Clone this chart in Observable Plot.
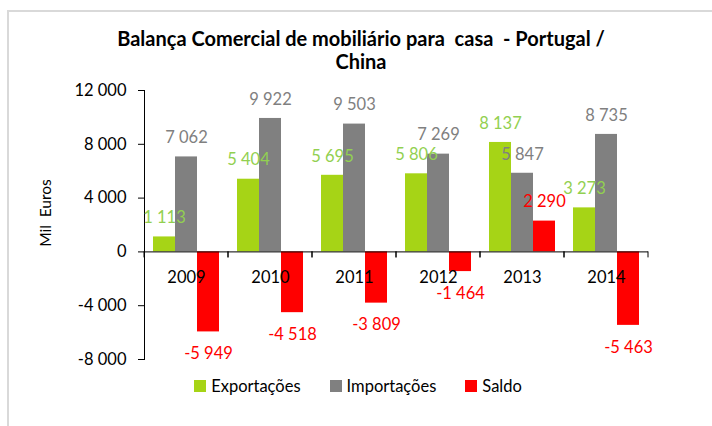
<!DOCTYPE html>
<html>
<head>
<meta charset="utf-8">
<script src="https://cdn.jsdelivr.net/npm/d3@7"></script>
<script src="https://cdn.jsdelivr.net/npm/@observablehq/plot@0.6"></script>
<style>
  html, body { margin: 0; padding: 0; background: #fff; }
  #wrap { position: relative; width: 712px; height: 426px; overflow: hidden; font-family: Lato, sans-serif; }
  #border { position: absolute; left: 7px; top: 10px; right: 0; bottom: 0; border-left: 2px solid #d9d9d9; border-top: 2px solid #d9d9d9; }
  #title { position: absolute; left: 0; width: 722px; top: 27px; text-align: center; font-weight: bold; font-size: 20px; line-height: 23px; white-space: pre; color: #000; }
  #ylabel { position: absolute; left: 45px; top: 213px; transform: translate(-50%, -50%) rotate(-90deg); font-size: 15.5px; white-space: pre; color: #000; }
  #legend { position: absolute; left: 0; width: 716px; top: 376px; display: flex; justify-content: center; gap: 29px; font-size: 16.5px; color: #000; }
  .item { display: flex; align-items: center; gap: 5px; }
  .sw { width: 12px; height: 12px; display: inline-block; }
  svg { position: absolute; left: 0; top: 0; }
</style>
</head>
<body>
<div id="wrap">
  <div id="border"></div>
  <div id="chart"></div>
  <div id="title"></div>
  <div id="ylabel"></div>
  <div id="legend"></div>
</div>
<script>
// ---- Data ----
const titleLines = ["Balança Comercial de mobiliário para  casa  - Portugal /", "China"];
const yLabel = "Mil  Euros";
const years = ["2009", "2010", "2011", "2012", "2013", "2014"];
const seriesNames = ["Exportações", "Importações", "Saldo"];
const exportacoes = [1113, 5404, 5695, 5806, 8137, 3273];
const importacoes = [7062, 9922, 9503, 7269, 5847, 8735];
const saldo = [-5949, -4518, -3809, -1464, 2290, -5463];
const yTicks = [-8000, -4000, 0, 4000, 8000, 12000];
const barColors = ["#a6d416", "#808080", "#ff0000"];
const labelColors = ["#92d050", "#808080", "#ff0000"];

// ---- Table ----
const seriesValues = [exportacoes, importacoes, saldo];
const rows = [];
years.forEach((year, i) => {
  seriesNames.forEach((s, j) => rows.push({year, series: s, value: seriesValues[j][i]}));
});

const locale = d3.formatLocale({decimal: ",", thousands: " ", grouping: [3], currency: ["", ""], minus: "-"});
const fmt = locale.format(",d");

const pos = s => rows.filter(d => d.series === s && d.value >= 0);
const neg = s => rows.filter(d => d.series === s && d.value < 0);

// boundary ticks on the zero line at each group edge
const groupTicks = (index, scales, values, dims) => {
  const y0 = scales.y(0);
  const g = d3.create("svg:g");
  g.append("path")
    .attr("d", `M${dims.marginLeft},${y0}v6M${dims.width - dims.marginRight},${y0}v6`)
    .attr("stroke", "#000").attr("fill", "none");
  return g.node();
};

const chart = Plot.plot({
  width: 712,
  height: 426,
  marginLeft: 143,
  marginRight: 64,
  marginTop: 90,
  marginBottom: 67,
  style: {fontFamily: "Lato, sans-serif", fontSize: "16.5px", background: "transparent", color: "#000"},
  fx: {domain: years, padding: 0, axis: null, label: null},
  x: {domain: seriesNames, paddingInner: 0, paddingOuter: 0.375, axis: null},
  y: {domain: [-8000, 12000], ticks: yTicks, tickFormat: fmt, tickSize: 6, tickPadding: 12, line: true, label: null},
  color: {domain: seriesNames, range: barColors},
  marks: [
    Plot.barY(rows, {fx: "year", x: "series", y: "value", fill: "series"}),
    Plot.ruleY([0], {stroke: "#000"}),
    groupTicks,
    Plot.text(years, {fx: d => d, y: () => 0, text: d => d, dy: 26, fill: "#000"}),
    ...seriesNames.map((s, j) => Plot.text(pos(s), {fx: "year", x: "series", y: "value", text: d => fmt(d.value), fill: labelColors[j], dy: -19})),
    ...seriesNames.map((s, j) => Plot.text(neg(s), {fx: "year", x: "series", y: "value", text: d => fmt(d.value), fill: labelColors[j], dy: 22}))
  ]
});
document.getElementById("chart").appendChild(chart);

document.getElementById("title").textContent = titleLines.join("\n");
document.getElementById("ylabel").textContent = yLabel;
const legend = document.getElementById("legend");
seriesNames.forEach((s, j) => {
  const item = document.createElement("div");
  item.className = "item";
  const sw = document.createElement("span");
  sw.className = "sw";
  sw.style.background = barColors[j];
  const t = document.createElement("span");
  t.textContent = s;
  item.appendChild(sw);
  item.appendChild(t);
  legend.appendChild(item);
});
</script>
</body>
</html>
